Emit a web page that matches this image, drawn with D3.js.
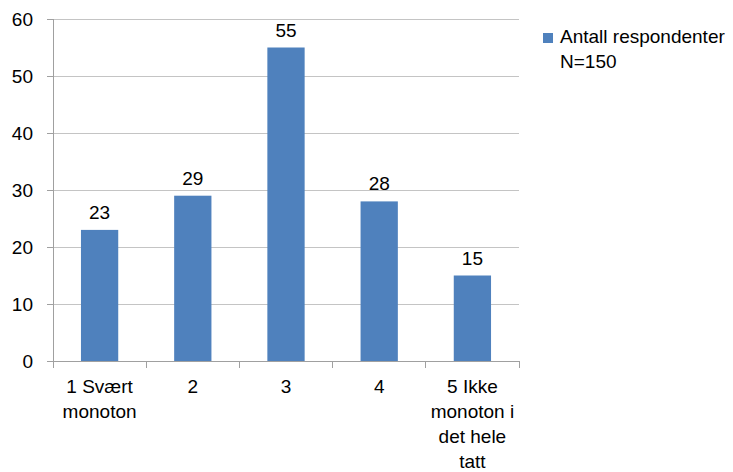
<!DOCTYPE html>
<html>
<head>
<meta charset="utf-8">
<script src="https://cdn.jsdelivr.net/npm/d3@7"></script>
<style>
  html, body { margin: 0; padding: 0; background: #fff; }
  svg { display: block; }
  text { font-family: "Liberation Sans", Arial, sans-serif; fill: #000; }
</style>
</head>
<body>
<svg id="chart" width="733" height="472"></svg>
<script>
// Survey responses per category
const categories = ["1 Svært monoton", "2", "3", "4", "5 Ikke monoton i det hele tatt"];
const categoryLines = [["1 Svært", "monoton"], ["2"], ["3"], ["4"], ["5 Ikke", "monoton i", "det hele", "tatt"]];
const counts = [23, 29, 55, 28, 15];
const yTicks = [0, 10, 20, 30, 40, 50, 60];
const seriesName = ["Antall respondenter", "N=150"];

const svg = d3.select("#chart");
const fontSize = 19;
const lineH = 25;

const x = d3.scaleBand()
  .domain(categories)
  .range([53, 519])
  .paddingInner(0.6)
  .paddingOuter(0.3);

const y = d3.scaleLinear().domain([0, 60]).range([361, 19]);

// Horizontal gridlines
svg.append("g")
  .selectAll("line")
  .data(yTicks.filter(d => d > 0))
  .join("line")
  .attr("x1", 53).attr("x2", 519)
  .attr("y1", d => y(d)).attr("y2", d => y(d))
  .attr("stroke", "#c4c4c4").attr("stroke-width", 1)
  .attr("shape-rendering", "crispEdges");

// Y axis
const yAxis = svg.append("g")
  .attr("transform", "translate(53,0)")
  .call(d3.axisLeft(y).tickValues(yTicks).tickSize(6).tickPadding(14));
yAxis.select(".domain").attr("stroke", "#a0a0a0").attr("shape-rendering", "crispEdges");
yAxis.selectAll(".tick line").attr("stroke", "#a0a0a0").attr("shape-rendering", "crispEdges");
yAxis.selectAll(".tick text")
  .attr("font-size", fontSize)
  .attr("font-family", "Liberation Sans, Arial, sans-serif")
  .attr("fill", "#000");

// Bars
svg.append("g")
  .selectAll("rect")
  .data(categories)
  .join("rect")
  .attr("x", d => x(d))
  .attr("width", x.bandwidth())
  .attr("y", (d, i) => y(counts[i]))
  .attr("height", (d, i) => y(0) - y(counts[i]))
  .attr("fill", "#4f81bd");

// X axis baseline and category separators
const xAxisG = svg.append("g");
xAxisG.append("line")
  .attr("x1", 53).attr("x2", 519)
  .attr("y1", y(0)).attr("y2", y(0))
  .attr("stroke", "#a0a0a0").attr("shape-rendering", "crispEdges");
const step = x.step();
const edges = d3.range(categories.length + 1).map(i => x.range()[0] + i * step);
xAxisG.selectAll("line.sep")
  .data(edges)
  .join("line")
  .attr("class", "sep")
  .attr("x1", d => d).attr("x2", d => d)
  .attr("y1", y(0)).attr("y2", y(0) + 7)
  .attr("stroke", "#a0a0a0").attr("shape-rendering", "crispEdges");

// Category labels (wrapped)
const catLabels = svg.append("g")
  .selectAll("text")
  .data(categories)
  .join("text")
  .attr("text-anchor", "middle")
  .attr("font-size", fontSize)
  .attr("x", d => x(d) + x.bandwidth() / 2)
  .attr("y", 393);
catLabels.each(function(d, i) {
  const t = d3.select(this);
  categoryLines[i].forEach((line, j) => {
    t.append("tspan")
      .attr("x", x(d) + x.bandwidth() / 2)
      .attr("y", 393 + j * lineH)
      .text(line);
  });
});

// Value labels
svg.append("g")
  .selectAll("text")
  .data(categories)
  .join("text")
  .attr("text-anchor", "middle")
  .attr("font-size", fontSize)
  .attr("x", d => x(d) + x.bandwidth() / 2)
  .attr("y", (d, i) => y(counts[i]) - 11)
  .text((d, i) => counts[i]);

// Legend
const legend = svg.append("g");
legend.append("rect")
  .attr("x", 543).attr("y", 33)
  .attr("width", 10).attr("height", 10)
  .attr("fill", "#4f81bd");
legend.append("text")
  .attr("font-size", fontSize)
  .selectAll("tspan")
  .data(seriesName)
  .join("tspan")
  .attr("x", 560)
  .attr("y", (d, i) => 43 + i * lineH)
  .text(d => d);
</script>
</body>
</html>
